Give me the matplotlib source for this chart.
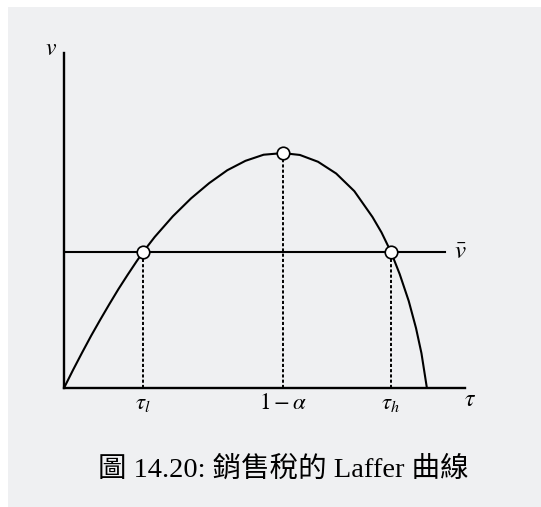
import numpy as np
import matplotlib.pyplot as plt
from matplotlib.patches import Rectangle

plt.rcParams['mathtext.fontset'] = 'stix'

tau = [0.0, 0.025, 0.05, 0.075, 0.10, 0.125, 0.15, 0.175, 0.20, 0.218,
       0.25, 0.30, 0.35, 0.40, 0.45, 0.50, 0.55, 0.603,
       0.65, 0.70, 0.75, 0.80, 0.85, 0.875, 0.901, 0.925, 0.95, 0.97, 0.985, 1.0]
v = [0.0, 0.077, 0.151, 0.223, 0.291, 0.357, 0.421, 0.481, 0.539, 0.579,
     0.643, 0.731, 0.807, 0.872, 0.927, 0.967, 0.993, 1.0,
     0.992, 0.963, 0.913, 0.838, 0.728, 0.662, 0.579, 0.485, 0.370, 0.255, 0.148, 0.0]

v_bar = 0.579
tau_marks = [0.218, 0.603, 0.901]     # tau_l, 1-alpha, tau_h
v_marks = [0.579, 1.0, 0.579]
tick_labels = [r'$\tau_l$', r'$1-\alpha$', r'$\tau_h$']

W, H = 541, 507
fig = plt.figure(figsize=(W / 100, H / 100), dpi=100, facecolor='white')
fig.patches.append(Rectangle((8 / W, 0), 1 - 8 / W, 1 - 7 / H,
                             transform=fig.transFigure, facecolor='#eff0f2',
                             edgecolor='none', zorder=-10))

x0, y0, x1, y1 = 64, 388, 465, 53
ax = fig.add_axes([x0 / W, (H - y0) / H, (x1 - x0) / W, (y0 - y1) / H])
ax.set_zorder(1)
ax.set_facecolor('none')
ax.set_xlim(0, 1.105)
ax.set_ylim(0, 1.426)
for s in ['top', 'right']:
    ax.spines[s].set_visible(False)
for s in ['left', 'bottom']:
    ax.spines[s].set_linewidth(1.7)

ax.plot(tau, v, color='black', lw=1.5, solid_joinstyle='round', zorder=3)
ax.plot([0, 1.05], [v_bar, v_bar], color='black', lw=1.5, zorder=3)
ax.vlines(tau_marks, 0, v_marks, colors='black', lw=1.4,
          linestyles=(0, (1.6, 1.1)), zorder=2)
ax.plot(tau_marks, v_marks, 'o', ms=9, mfc='white', mec='black', mew=1.2,
        zorder=5, clip_on=False)

ax.set_xticks(tau_marks)
ax.set_xticklabels(tick_labels, fontsize=16.5)
ax.tick_params(axis='x', length=0, pad=2)
ax.set_yticks([])

ax.text(-0.036, 1.447, r'$v$', fontsize=17, ha='center', va='center')
ax.text(1.118, -0.047, r'$\tau$', fontsize=17, ha='center', va='center')
ax.text(1.091, v_bar, r'$\bar{v}$', fontsize=18, ha='center', va='center')

fig.text(283 / W, 1 - 470 / H, '圖 14.20: 銷售稅的 Laffer 曲線', fontsize=20.5,
         family=['Liberation Serif', 'Noto Sans CJK TC'], ha='center', va='center')

fig.savefig('out.png', dpi=100, facecolor=fig.get_facecolor())
